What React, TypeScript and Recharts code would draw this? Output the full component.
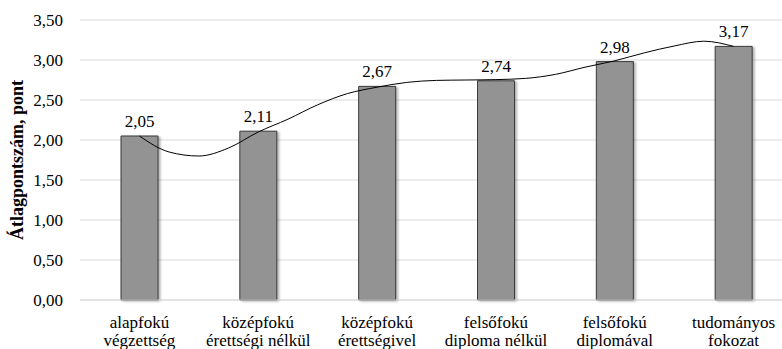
import { Bar, CartesianGrid, ComposedChart, LabelList, Line, XAxis, YAxis } from "recharts";

const FONT = "Liberation Serif, Times New Roman, serif";

const CATEGORIES = [
  ["alapfokú", "végzettség"],
  ["középfokú", "érettségi nélkül"],
  ["középfokú", "érettségivel"],
  ["felsőfokú", "diploma nélkül"],
  ["felsőfokú", "diplomával"],
  ["tudományos", "fokozat"],
];
const SCORES = [2.05, 2.11, 2.67, 2.74, 2.98, 3.17];

// smoothed trend curve, sampled every quarter category
const TREND_X = [1, 1.25, 1.5, 1.75, 2, 2.25, 2.5, 2.75, 3, 3.25, 3.5, 3.75, 4, 4.25, 4.5, 4.75, 5, 5.25, 5.5, 5.75, 6];
const TREND = [2.05, 1.85, 1.8, 1.9, 2.1, 2.26, 2.44, 2.58, 2.66, 2.72, 2.745, 2.75, 2.755, 2.77, 2.82, 2.91, 2.99, 3.09, 3.175, 3.235, 3.17];

const Y_TICKS = [0, 0.5, 1, 1.5, 2, 2.5, 3, 3.5];
const X_TICKS = [1, 2, 3, 4, 5, 6];

const fmt = (v: number) => v.toFixed(2).replace(".", ",");

const barRows = SCORES.map((score, i) => ({ x: i + 1, score }));
const trendRows = TREND_X.map((x, i) => ({ x, trend: TREND[i] }));

function CategoryTick({ x, y, payload }: any) {
  const lines = CATEGORIES[payload.value - 1] ?? [];
  return (
    <text x={x} y={y} textAnchor="middle" fontSize={17} fontFamily={FONT} fill="#000">
      {lines.map((l, i) => (
        <tspan key={i} x={x} dy={i === 0 ? 20 : 18}>{l}</tspan>
      ))}
    </text>
  );
}

function ValueLabel({ x, y, width, value }: any) {
  if (value == null) return null;
  return (
    <text x={x + width / 2} y={y - 9} textAnchor="middle" fontSize={17} fontFamily={FONT} fill="#000">
      {fmt(value)}
    </text>
  );
}

function AxisTitle({ viewBox }: any) {
  const cx = viewBox.x + 17;
  const cy = viewBox.y + viewBox.height / 2;
  return (
    <text transform={`translate(${cx},${cy}) rotate(-90)`} textAnchor="middle" dominantBaseline="central"
          fontSize={18} fontWeight="bold" fontFamily={FONT} fill="#000">
      Átlagpontszám, pont
    </text>
  );
}

export default function App() {
  return (
    <div style={{ position: "fixed", left: 0, top: 0, width: 782, height: 349, overflow: "hidden", background: "#fff" }}>
      <ComposedChart width={800} height={349} data={barRows} margin={{ top: 20, right: 7, bottom: 0, left: 0 }}>
        <defs>
          <filter id="barShadow" x="-20%" y="-5%" width="150%" height="115%">
            <feDropShadow dx="2" dy="1" stdDeviation="1.2" floodColor="#000" floodOpacity="0.3" />
          </filter>
        </defs>
        <CartesianGrid vertical={false} stroke="#d9d9d9" />
        <XAxis dataKey="x" type="number" domain={[0.5, 6.5]} ticks={X_TICKS} interval={0}
               height={49} tickSize={0} tickMargin={8} axisLine={{ stroke: "#d9d9d9" }} tickLine={false}
               tick={<CategoryTick />} />
        <XAxis xAxisId="trend" dataKey="x" type="number" domain={[0.5, 6.5]} hide />
        <YAxis type="number" domain={[0, 3.5]} ticks={Y_TICKS} width={80} tickSize={0} tickMargin={17}
               axisLine={false} tickLine={false} tickFormatter={fmt}
               tick={{ fontSize: 17, fill: "#000", fontFamily: FONT }}
               label={{ content: <AxisTitle /> }} />
        <Bar dataKey="score" barSize={37} fill="#939393" stroke="#3a3a3a" strokeWidth={1}
             filter="url(#barShadow)" isAnimationActive={false}>
          <LabelList dataKey="score" content={<ValueLabel />} />
        </Bar>
        <Line xAxisId="trend" data={trendRows} dataKey="trend" type="monotone" stroke="#000" strokeWidth={1}
              dot={false} activeDot={false} isAnimationActive={false} />
      </ComposedChart>
    </div>
  );
}
